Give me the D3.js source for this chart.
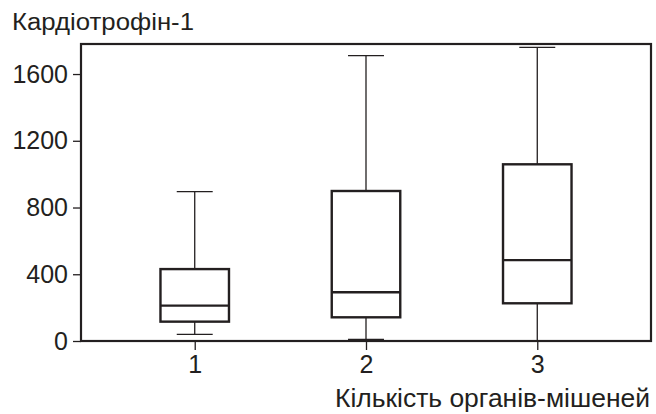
<!DOCTYPE html>
<html>
<head>
<meta charset="utf-8">
<script src="https://cdn.jsdelivr.net/npm/d3@7"></script>
<style>
  body { margin: 0; background: #fff; }
  text { font-family: "Liberation Sans", Arial, sans-serif; fill: #231f20; }
</style>
</head>
<body>
<svg id="chart" width="656" height="414"></svg>
<script>
// Data.
const groups = ["1", "2", "3"];
const whiskerLow = [40, 10, 0];
const q1 = [116, 142, 226];
const median = [212, 292, 485];
const q3 = [431, 899, 1059];
const whiskerHigh = [895, 1710, 1760];
const yTicks = [0, 400, 800, 1200, 1600];

const svg = d3.select("#chart");
const ink = "#231f20";
const margin = { top: 44, right: 5, bottom: 73, left: 81 };
const width = 656, height = 414;

// Scales.
const x = d3.scalePoint()
  .domain(groups)
  .range([margin.left, width - margin.right])
  .padding(0.664);
const y = d3.scaleLinear()
  .domain([0, 1780])
  .range([height - margin.bottom, margin.top]);

const boxW = x.step() * 0.4;
const capW = x.step() * 0.21;

// Axes.
const yAxis = d3.axisLeft(y)
  .tickValues(yTicks)
  .tickFormat(d3.format("d"))
  .tickSizeInner(8)
  .tickSizeOuter(0)
  .tickPadding(5);
const gy = svg.append("g")
  .attr("transform", "translate(" + margin.left + ",0)")
  .call(yAxis);

const xAxis = d3.axisBottom(x)
  .tickSizeInner(9)
  .tickSizeOuter(0)
  .tickPadding(5);
const gx = svg.append("g")
  .attr("transform", "translate(0," + y(0) + ")")
  .call(xAxis);

[gx, gy].forEach(function(g) {
  g.attr("font-family", "Liberation Sans, Arial, sans-serif").attr("font-size", 25);
  g.select(".domain").remove();
  g.selectAll(".tick line").attr("stroke", ink).attr("stroke-width", 1.3);
  g.selectAll(".tick text").attr("fill", ink);
});

// Boxes.
const rows = groups.map(function(g, i) {
  return { g: g, lo: whiskerLow[i], q1: q1[i], med: median[i], q3: q3[i], hi: whiskerHigh[i] };
});

const box = svg.append("g").selectAll("g")
  .data(rows)
  .enter().append("g");

box.append("line")
  .attr("x1", d => x(d.g)).attr("x2", d => x(d.g))
  .attr("y1", d => y(d.hi)).attr("y2", d => y(d.q3))
  .attr("stroke", ink).attr("stroke-width", 1.3);
box.append("line")
  .attr("x1", d => x(d.g)).attr("x2", d => x(d.g))
  .attr("y1", d => y(d.q1)).attr("y2", d => y(d.lo))
  .attr("stroke", ink).attr("stroke-width", 1.3);
box.append("line")
  .attr("x1", d => x(d.g) - capW / 2).attr("x2", d => x(d.g) + capW / 2)
  .attr("y1", d => y(d.hi)).attr("y2", d => y(d.hi))
  .attr("stroke", ink).attr("stroke-width", 1.3);
box.append("line")
  .attr("x1", d => x(d.g) - capW / 2).attr("x2", d => x(d.g) + capW / 2)
  .attr("y1", d => y(d.lo)).attr("y2", d => y(d.lo))
  .attr("stroke", ink).attr("stroke-width", 1.3);
box.append("rect")
  .attr("x", d => x(d.g) - boxW / 2)
  .attr("y", d => y(d.q3))
  .attr("width", boxW)
  .attr("height", d => y(d.q1) - y(d.q3))
  .attr("fill", "#fff")
  .attr("stroke", ink).attr("stroke-width", 2.4);
box.append("line")
  .attr("x1", d => x(d.g) - boxW / 2).attr("x2", d => x(d.g) + boxW / 2)
  .attr("y1", d => y(d.med)).attr("y2", d => y(d.med))
  .attr("stroke", ink).attr("stroke-width", 2.4);

// Frame.
svg.append("rect")
  .attr("x", margin.left)
  .attr("y", margin.top)
  .attr("width", width - margin.left - margin.right)
  .attr("height", y(0) - margin.top)
  .attr("fill", "none")
  .attr("stroke", ink)
  .attr("stroke-width", 2.2);

// Titles.
svg.append("text")
  .attr("x", 12).attr("y", 30)
  .attr("font-size", 23)
  .attr("textLength", 182)
  .attr("lengthAdjust", "spacingAndGlyphs")
  .text("Кардіотрофін-1");
svg.append("text")
  .attr("x", 335).attr("y", 407)
  .attr("font-size", 26)
  .attr("textLength", 315)
  .attr("lengthAdjust", "spacingAndGlyphs")
  .text("Кількість органів-мішеней");
</script>
</body>
</html>
